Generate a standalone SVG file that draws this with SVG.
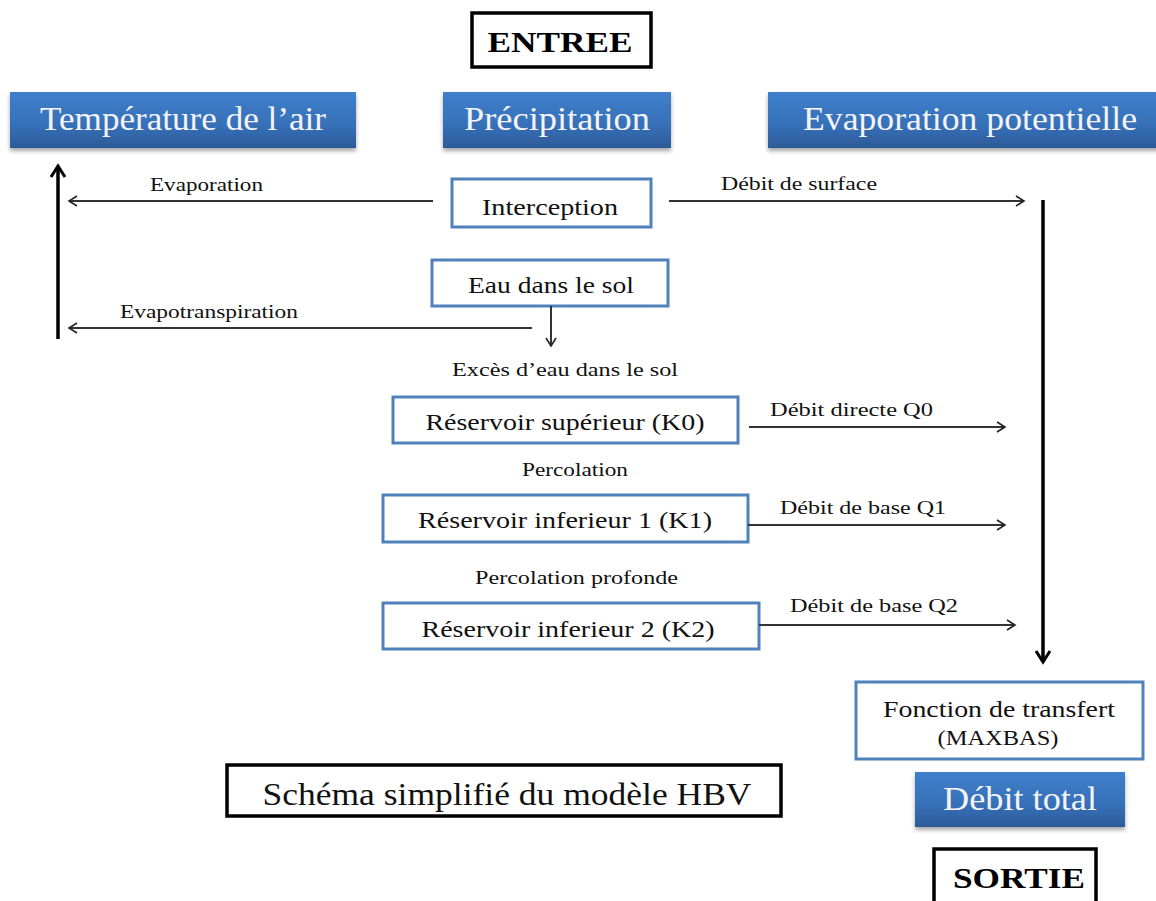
<svg xmlns="http://www.w3.org/2000/svg" width="1156" height="901" viewBox="0 0 1156 901" font-family="'Liberation Serif', Tinos, 'Times New Roman', Times, serif">
<defs>
<linearGradient id="blueGrad" x1="0" y1="0" x2="0" y2="1">
<stop offset="0" stop-color="#3f7fcb"/>
<stop offset="0.6" stop-color="#3670b8"/>
<stop offset="1" stop-color="#2c5a98"/>
</linearGradient>
<filter id="shadow" x="-5%" y="-10%" width="110%" height="130%">
<feDropShadow dx="0" dy="3" stdDeviation="2" flood-color="#000" flood-opacity="0.35"/>
</filter>
<marker id="chev" markerWidth="14" markerHeight="14" refX="11" refY="7" orient="auto" markerUnits="userSpaceOnUse">
<path d="M3,2 L11,7 L3,12" fill="none" stroke="#222" stroke-width="1.6"/>
</marker>
<marker id="chevBig" markerWidth="20" markerHeight="20" refX="15" refY="10" orient="auto" markerUnits="userSpaceOnUse">
<path d="M4,3 L15,10 L4,17" fill="none" stroke="#000" stroke-width="3"/>
</marker>
</defs>
<style>
text{font-family:"Liberation Serif",Tinos,"Times New Roman",Times,serif;}
.blue{fill:url(#blueGrad);filter:url(#shadow);}
.bluetxt{fill:#f4f4f8;font-size:34px;}
.bbox{fill:#fff;stroke:#4f81bd;stroke-width:3;}
.kbox{fill:#fff;stroke:#000;stroke-width:3.5;}
.btxt{fill:#111;font-size:24px;}
.lbl{fill:#111;font-size:18px;}
.thin{stroke:#333;stroke-width:2;fill:none;marker-end:url(#chev);}
.thick{stroke:#000;stroke-width:3.5;fill:none;marker-end:url(#chevBig);}
</style>

<g id="entree">
<rect class="kbox" x="472" y="13" width="179" height="54"/>
<text x="560" y="52" text-anchor="middle" font-size="30" font-weight="bold" fill="#000" textLength="145" lengthAdjust="spacingAndGlyphs">ENTREE</text>
</g>

<g id="temperature">
<rect class="blue" x="10" y="92" width="346" height="56"/>
<text class="bluetxt" x="183" y="130" text-anchor="middle" textLength="286" lengthAdjust="spacingAndGlyphs">Température de l’air</text>
</g>

<g id="precipitation">
<rect class="blue" x="443" y="92" width="228" height="56"/>
<text class="bluetxt" x="557" y="130" text-anchor="middle" textLength="186" lengthAdjust="spacingAndGlyphs">Précipitation</text>
</g>

<g id="evap-potentielle">
<rect class="blue" x="768" y="92" width="400" height="56"/>
<text class="bluetxt" x="970" y="130" text-anchor="middle" textLength="334" lengthAdjust="spacingAndGlyphs">Evaporation potentielle</text>
</g>

<g id="interception">
<rect class="bbox" x="452" y="179" width="199" height="48"/>
<text class="btxt" x="550" y="215" text-anchor="middle" textLength="136" lengthAdjust="spacingAndGlyphs">Interception</text>
</g>

<g id="eau-sol">
<rect class="bbox" x="432" y="260" width="236" height="46"/>
<text class="btxt" x="551" y="293" text-anchor="middle" textLength="166" lengthAdjust="spacingAndGlyphs">Eau dans le sol</text>
</g>

<g id="reservoir-k0">
<rect class="bbox" x="393" y="397" width="345" height="46"/>
<text class="btxt" x="565" y="430" text-anchor="middle" textLength="279" lengthAdjust="spacingAndGlyphs">Réservoir supérieur (K0)</text>
</g>

<g id="reservoir-k1">
<rect class="bbox" x="383" y="495" width="365" height="47"/>
<text class="btxt" x="565" y="528" text-anchor="middle" textLength="294" lengthAdjust="spacingAndGlyphs">Réservoir inferieur 1 (K1)</text>
</g>

<g id="reservoir-k2">
<rect class="bbox" x="383" y="603" width="376" height="46"/>
<text class="btxt" x="568" y="637" text-anchor="middle" textLength="293" lengthAdjust="spacingAndGlyphs">Réservoir inferieur 2 (K2)</text>
</g>

<g id="fonction-transfert">
<rect class="bbox" x="856" y="682" width="287" height="77"/>
<text class="btxt" x="999" y="717" text-anchor="middle" textLength="232" lengthAdjust="spacingAndGlyphs">Fonction de transfert</text>
<text x="998" y="745" text-anchor="middle" font-size="20" fill="#111" textLength="121" lengthAdjust="spacingAndGlyphs">(MAXBAS)</text>
</g>

<g id="titre">
<rect class="kbox" x="227" y="765" width="554" height="51"/>
<text x="507" y="805" text-anchor="middle" font-size="32" fill="#111" textLength="489" lengthAdjust="spacingAndGlyphs">Schéma simplifié du modèle HBV</text>
</g>

<g id="debit-total">
<rect class="blue" x="915" y="772" width="210" height="55"/>
<text class="bluetxt" x="1020" y="810" text-anchor="middle" textLength="154" lengthAdjust="spacingAndGlyphs">Débit total</text>
</g>

<g id="sortie">
<rect class="kbox" x="934" y="849" width="162" height="60"/>
<text x="1019" y="888" text-anchor="middle" font-size="30" font-weight="bold" fill="#000" textLength="132" lengthAdjust="spacingAndGlyphs">SORTIE</text>
</g>

<g id="connectors">
<line class="thick" x1="58" y1="339" x2="58" y2="166"/>
<line class="thick" x1="1043" y1="200" x2="1043" y2="662"/>
<line class="thin" x1="433" y1="201" x2="69" y2="201"/>
<line class="thin" x1="669" y1="201" x2="1024" y2="201"/>
<line class="thin" x1="532" y1="328" x2="69" y2="328"/>
<line class="thin" x1="551" y1="306" x2="551" y2="346"/>
<line class="thin" x1="749" y1="427" x2="1005" y2="427"/>
<line class="thin" x1="748" y1="525" x2="1005" y2="525"/>
<line class="thin" x1="759" y1="625" x2="1015" y2="625"/>
</g>

<g id="labels">
<text class="lbl" x="150" y="191" textLength="113" lengthAdjust="spacingAndGlyphs">Evaporation</text>
<text class="lbl" x="721" y="190" textLength="156" lengthAdjust="spacingAndGlyphs">Débit de surface</text>
<text class="lbl" x="120" y="318" textLength="178" lengthAdjust="spacingAndGlyphs">Evapotranspiration</text>
<text class="lbl" x="452" y="376" textLength="226" lengthAdjust="spacingAndGlyphs">Excès d’eau  dans le sol</text>
<text class="lbl" x="770" y="416" textLength="163" lengthAdjust="spacingAndGlyphs">Débit directe  Q0</text>
<text class="lbl" x="522" y="476" textLength="106" lengthAdjust="spacingAndGlyphs">Percolation</text>
<text class="lbl" x="780" y="514" textLength="166" lengthAdjust="spacingAndGlyphs">Débit de base Q1</text>
<text class="lbl" x="475" y="584" textLength="203" lengthAdjust="spacingAndGlyphs">Percolation  profonde</text>
<text class="lbl" x="790" y="612" textLength="168" lengthAdjust="spacingAndGlyphs">Débit de base Q2</text>
</g>
</svg>
